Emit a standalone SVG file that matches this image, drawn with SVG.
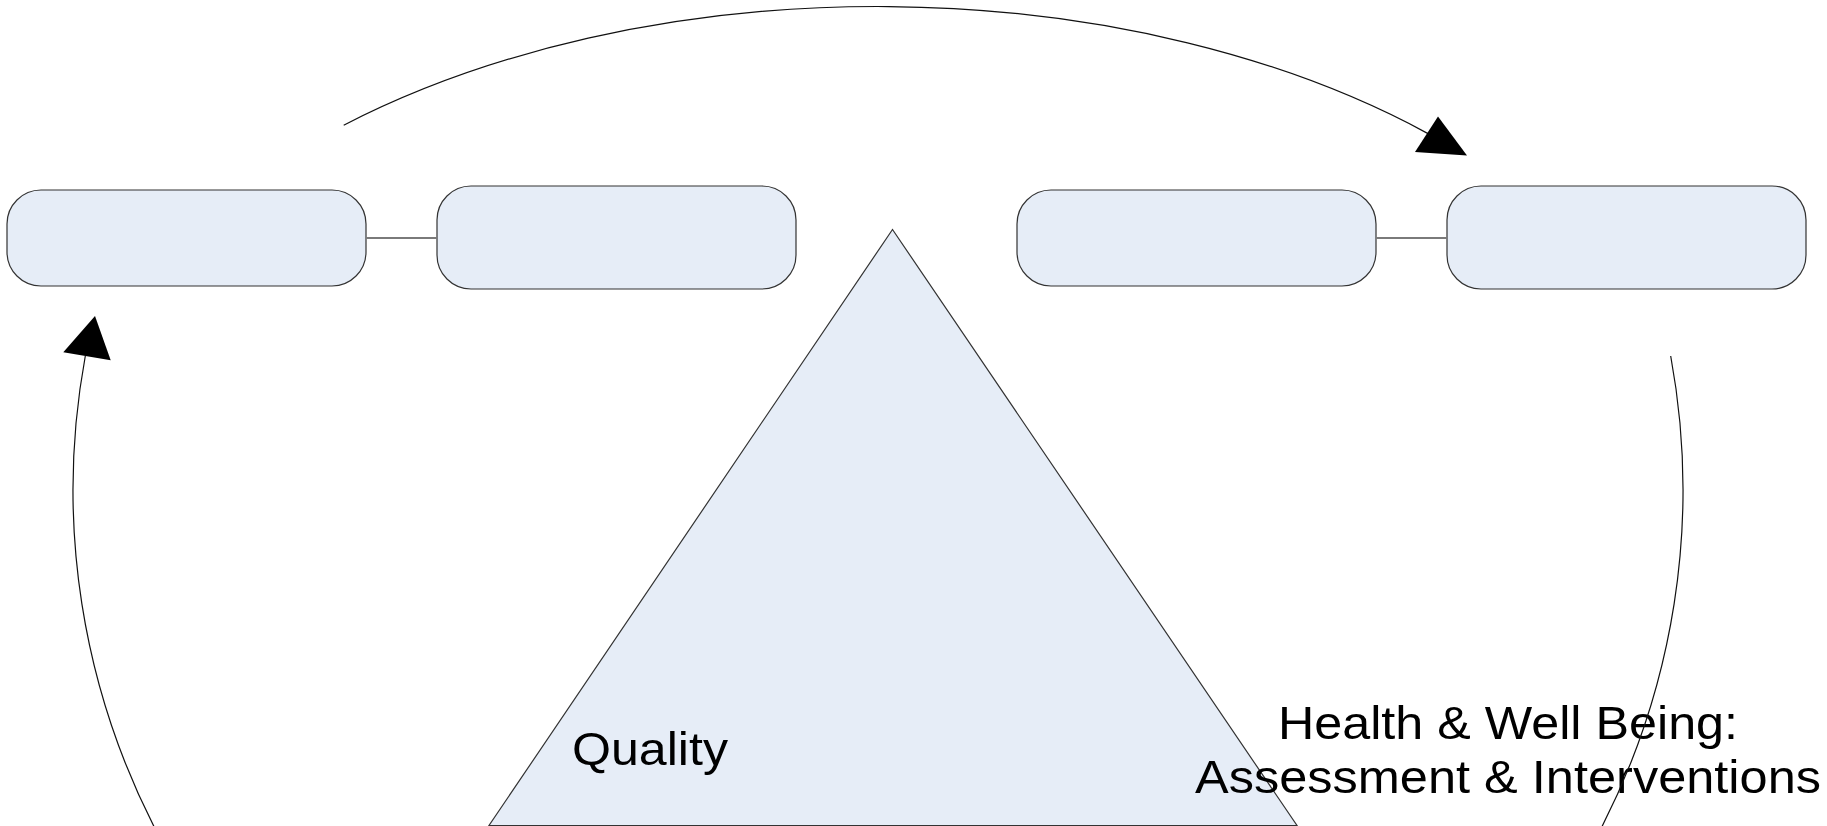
<svg xmlns="http://www.w3.org/2000/svg" width="1827" height="826" viewBox="0 0 1827 826">
<style>
.node{fill:#E6EDF7;stroke:#333333;stroke-width:1.2}
.link{stroke:#7a7a7a;stroke-width:2;fill:none}
.arc{stroke:#111111;stroke-width:1.2;fill:none}
.head{fill:#000000;stroke:none}
.lbl{font-family:"Liberation Sans",Arial,sans-serif;font-size:47px;fill:#000000}
</style>
<rect width="1827" height="826" fill="#ffffff"/>
<g id="triangle"><polygon class="node" points="892.5,229.5 489,825.5 1297,825.5"/></g>
<g id="box1"><rect class="node" x="7" y="190" width="359" height="96" rx="34" ry="34"/></g>
<g id="box2"><rect class="node" x="437" y="186" width="359" height="103" rx="34" ry="34"/></g>
<g id="box3"><rect class="node" x="1017" y="190" width="359" height="96" rx="34" ry="34"/></g>
<g id="box4"><rect class="node" x="1447" y="186" width="359" height="103" rx="34" ry="34"/></g>
<g id="label-quality"><text class="lbl" x="572" y="765" textLength="156" lengthAdjust="spacingAndGlyphs">Quality</text></g>
<g id="label-health"><text class="lbl" text-anchor="middle" x="1508" y="739" textLength="460" lengthAdjust="spacingAndGlyphs">Health &amp; Well Being:</text><text class="lbl" text-anchor="middle" x="1508" y="793" textLength="626" lengthAdjust="spacingAndGlyphs">Assessment &amp; Interventions</text></g>
<g id="connectors">
<line class="link" x1="366" y1="238" x2="437" y2="238"/>
<line class="link" x1="1376" y1="238" x2="1447" y2="238"/>
<path class="arc" d="M 343.7 125.2 A 814 483.5 0 0 1 1428 133.6"/>
<polygon class="head" points="1438,116.5 1415,152 1467,155.5"/>
<path class="arc" d="M 85.3 356 A 805 770 0 0 0 161 840"/>
<polygon class="head" points="63.3,352.3 110.7,360.3 95,316"/>
<path class="arc" d="M 1670.7 356 A 805 770 0 0 1 1595 840"/>
</g>
</svg>
